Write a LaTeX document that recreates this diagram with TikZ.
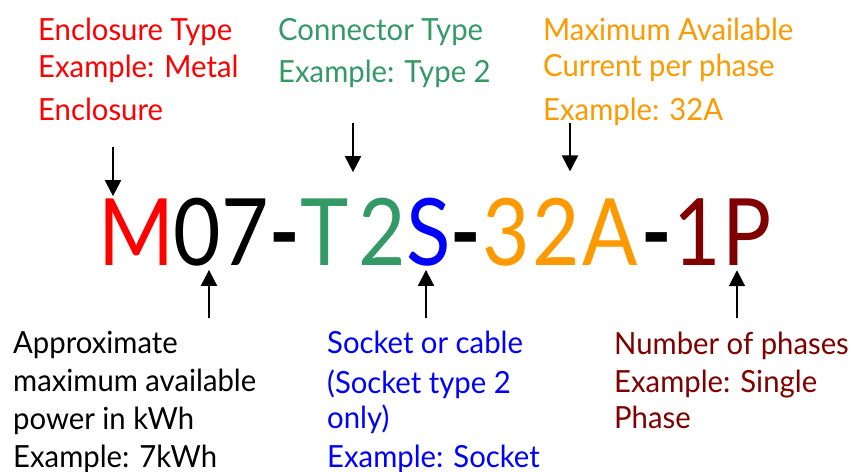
\documentclass[tikz,border=0pt]{standalone}
\usepackage{fontspec}
\setmainfont{Lato}[FakeStretch=0.96]
\newfontfamily\codefont{Lato}[FakeStretch=0.88]
\usetikzlibrary{arrows.meta}
\definecolor{cred}{HTML}{FF0000}
\definecolor{cgreen}{HTML}{339966}
\definecolor{cblue}{HTML}{0000FF}
\definecolor{corange}{HTML}{FF9900}
\definecolor{cdark}{HTML}{800000}
\tikzset{
  codechar/.style={font=\codefont\fontsize{93}{93}\selectfont, inner sep=0pt, anchor=base},
  dashchar/.style={codechar, font=\codefont\bfseries\fontsize{93}{93}\selectfont},
  lab/.style={font=\fontsize{30.5}{38}\selectfont, inner sep=0pt, anchor=base west, align=left},
  arr/.style={line width=2pt, -{Triangle[width=16pt,length=16pt]}},
}
\begin{document}
\begin{tikzpicture}[x=1pt,y=-1pt]
\useasboundingbox (0,0) rectangle (853,471);
% code characters
\node[codechar, text=cred]    (c1)  at (136,265)   {M};
\node[codechar, text=black]   (c2)  at (197,265)   {0};
\node[codechar, text=black]   (c3)  at (245.5,265) {7};
\node[dashchar, text=black]   (c4)  at (285,265)   {-};
\node[codechar, text=cgreen]  (c5)  at (325,265)   {T};
\node[codechar, text=cgreen]  (c6)  at (382.5,265) {2};
\node[codechar, text=cblue]   (c7)  at (429,265)   {S};
\node[dashchar, text=black]   (c8)  at (466,265)   {-};
\node[codechar, text=corange] (c9)  at (506,265)   {3};
\node[codechar, text=corange] (c10) at (556,265)   {2};
\node[codechar, text=corange] (c11) at (610,265)   {A};
\node[dashchar, text=black]   (c12) at (657,265)   {-};
\node[codechar, text=cdark]   (c13) at (697,265)   {1};
\node[codechar, text=cdark]   (c14) at (747.5,265) {P};
% labels (anchored at the baseline of their last line)
\node[lab, text=cred] (l1) at (38,120) {Enclosure Type\\[-1pt]Example: Metal\\[5pt]Enclosure};
\node[lab, text=cgreen] (l2) at (278,82) {Connector Type\\[4pt]Example: Type 2};
\node[lab, text=corange] (l3) at (543,120) {Maximum Available\\[-2pt]Current per phase\\[6pt]Example: 32A};
\node[lab, text=black] (l4) at (13,467) {Approximate\\maximum available\\power in kWh\\Example: 7kWh};
\node[lab, text=cblue] (l5) at (327,467) {Socket or cable\\[2pt](Socket type 2\\[-3pt]only)\\[1pt]Example: Socket};
\node[lab, text=cdark] (l6) at (614,428) {Number of phases\\Example: Single\\[-2pt]Phase};
% arrows
\coordinate (t1) at (113,147);
\coordinate (t2) at (353,123);
\coordinate (t3) at (570,123);
\coordinate (b1) at (209,318);
\coordinate (b2) at (426,318);
\coordinate (b3) at (737,318);
\draw[arr, shorten >=2pt]  (t1) -- (t1 |- c1.north);
\draw[arr, shorten >=26pt] (t2) -- (t2 |- c5.north);
\draw[arr, shorten >=26pt] (t3) -- (t3 |- c10.north);
\draw[arr, shorten >=4pt]  (b1) -- (b1 |- c2.south);
\draw[arr, shorten >=4pt]  (b2) -- (b2 |- c7.south);
\draw[arr, shorten >=5pt]  (b3) -- (b3 |- c14.south);
\end{tikzpicture}
\end{document}
